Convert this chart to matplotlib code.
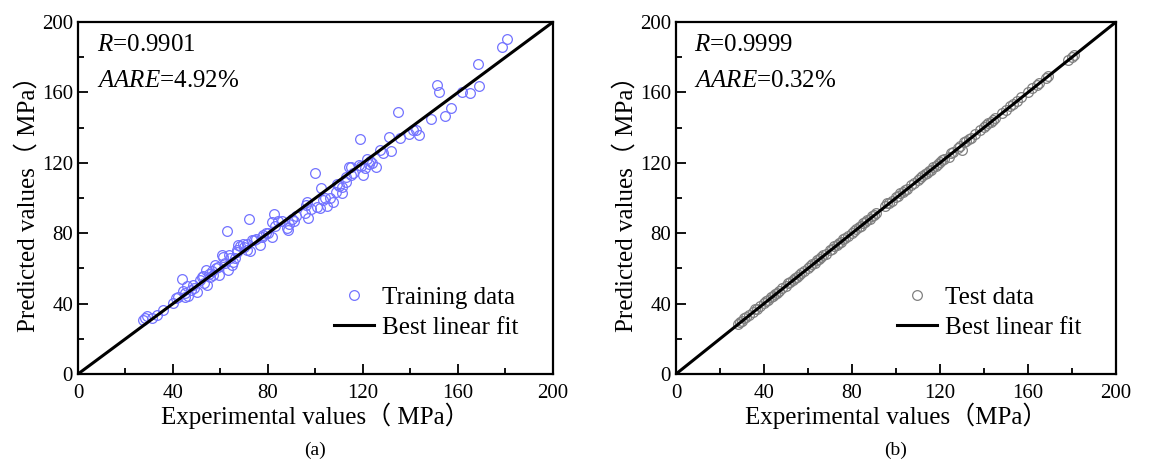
import matplotlib
matplotlib.use('Agg')
import matplotlib.pyplot as plt
from matplotlib.ticker import MultipleLocator

plt.rcParams['font.family'] = ['Liberation Serif', 'Noto Sans CJK SC']
plt.rcParams['mathtext.fontset'] = 'custom'
plt.rcParams['mathtext.rm'] = 'Liberation Serif'
plt.rcParams['mathtext.it'] = 'Liberation Serif:italic'

# training data (experimental, predicted)
train_exp = [27.5, 28.2, 29, 31, 33.1, 35.9, 40.1, 41.1, 42, 43.7, 44.4, 45, 45, 46, 46.5, 47.6,
             48.5, 49, 50, 51.4, 52.1, 52.8, 53, 54.1, 54.4, 55, 55.6, 56.3, 57, 57.7, 58, 59,
             59.5, 60.5, 61.2, 62, 62.6, 63.3, 63.7, 64, 65, 65.4, 66.1, 66.8, 67.1, 67.5, 68.2,
             69.6, 70, 71, 71, 72, 72.4, 73.1, 74, 75, 76.6, 77.6, 78, 79, 80.1, 81.5, 81.8, 82.7,
             83, 84.3, 86, 87.9, 88.6, 89, 90, 91, 92, 95.6, 96, 96.6, 97, 98, 99.8, 100.5, 101.9,
             102.2, 103, 104, 105, 106, 107.2, 108.6, 109, 110, 111, 111, 112.8, 113, 114.2, 114.9,
             115, 116, 118.5, 118.7, 119, 120.1, 120.8, 121.6, 122.7, 123, 124, 125.5, 127.2,
             128.6, 131.1, 132, 134.9, 135.6, 139.5, 140.9, 142.3, 143.6, 148.5, 151.3, 152.1,
             154.5, 157, 161.8, 164.9, 168.6, 168.8, 178.4, 180.5]
train_pred = [30.7, 31.6, 33, 32, 33.5, 36.4, 40.1, 43, 44, 54, 47.2, 43.9, 46, 50, 44.5, 47.7,
              50.6, 49, 46.8, 53.4, 55.3, 55.9, 52, 59, 50.6, 57, 55.3, 58.7, 56, 61.9, 60, 61,
              56.3, 67.6, 66.5, 63, 81, 59.1, 67.6, 66, 62, 63.8, 65.7, 70.5, 69.5, 73.3, 72.5,
              73.9, 72, 70.5, 74, 88, 69.9, 76.1, 76, 77, 73.3, 77.6, 79, 80, 79.9, 86.6, 78, 91.2,
              84, 87, 87, 82.8, 81.8, 85, 88, 87, 90, 91.7, 96, 97.5, 88.5, 93.8, 114.5, 95.1, 94.1,
              105.7, 99, 99.8, 95.5, 100, 97.5, 103.6, 108, 107, 106, 102.6, 109.3, 112, 117.8, 117.8,
              113, 114, 118.8, 133.5, 118, 113, 116.9, 122, 119.1, 121, 120, 117.8, 127.3,
              125.7, 134.5, 126.7, 149, 134.3, 136.5, 138.6, 138.6, 135.8, 145, 164, 160.4,
              146.8, 151.3, 160.4, 159.7, 176, 163.8, 185.6, 190.2]

# test data (experimental, predicted)
test_exp = [28, 29, 30, 31, 32, 33, 35, 36, 37, 38, 40, 41, 42, 43, 44, 45, 46, 47, 48, 50, 51, 52,
            53, 54, 55, 56, 57, 58, 60, 61, 62, 63, 64, 65, 66, 67, 68, 70, 71, 72, 73, 74, 75, 76,
            77, 78, 80, 81, 82, 83, 84, 85, 86, 87, 88, 89, 90, 91, 95, 96, 97, 98, 100, 101, 102,
            103, 104, 105, 107, 108, 110, 111, 112, 113, 114, 115, 116, 117, 118, 119, 120, 121,
            122, 124, 125, 126, 128, 129, 130, 131, 132, 133, 134, 136, 138, 140, 141, 142, 143,
            144, 145, 148, 150, 152, 153, 155, 157, 160, 162, 164, 165, 168, 169, 178, 180, 181]
test_pred = [28.4, 29.5, 30.3, 31.6, 32.2, 33.5, 35.4, 36.8, 37.2, 38.6, 40.3, 41.7, 42.1, 43.6,
             44.2, 45.5, 46.3, 47.4, 48.6, 50.2, 51.5, 52.4, 53.3, 54.6, 55.2, 56.5, 57.3, 58.7,
             60.2, 61.4, 62.5, 63.1, 64.6, 65.2, 66.4, 67.5, 68.2, 70.4, 71.2, 72.6, 73.3, 74.5,
             75.2, 76.6, 77.1, 78.5, 80.3, 81.2, 82.5, 83.4, 84.2, 85.6, 86.3, 87.4, 88.2, 89.6,
             90.4, 91.5, 95.6, 96.9, 97.3, 98.5, 100.4, 101.2, 102.6, 103.3, 104.5, 105.2, 107.6,
             108.3, 110.5, 111.2, 112.7, 113.4, 114.3, 115.6, 116.2, 117.5, 118.4, 119.3, 120.6,
             121.5, 122.3, 123.2, 125.6, 126.4, 128.5, 129.3, 127.2, 131.6, 132.4, 133.5, 134.3,
             136.6, 138.4, 140.6, 141.3, 142.5, 143.4, 144.2, 145.5, 148.4, 150.3, 152.5, 153.4,
             155.3, 157.5, 160.2, 162.4, 164.3, 165.2, 168.4, 169.3, 178.5, 180.2, 181.4]

fit_x = [0, 200]
fit_y = [0, 200]

panels = [
    dict(x=train_exp, y=train_pred, color='#7373ff', label='Training data',
         r='0.9901', aare='4.92%', xlab='Experimental values（ MPa）', tag='(a)',
         rect=[0.0663, 0.1991, 0.4039, 0.7537]),
    dict(x=test_exp, y=test_pred, color='#808080', label='Test data',
         r='0.9999', aare='0.32%', xlab='Experimental values（MPa）', tag='(b)',
         rect=[0.5748, 0.1991, 0.3741, 0.7537]),
]

fig = plt.figure(figsize=(11.76, 4.67), dpi=100)

for p in panels:
    ax = fig.add_axes(p['rect'])
    ax.plot(p['x'], p['y'], 'o', mfc='none', mec=p['color'], ms=7, mew=0.9,
            label=p['label'], zorder=2)
    ax.plot(fit_x, fit_y, '-', color='black', lw=2.2, label='Best linear fit', zorder=3)
    ax.set_xlim(0, 200)
    ax.set_ylim(0, 200)
    ax.xaxis.set_major_locator(MultipleLocator(40))
    ax.yaxis.set_major_locator(MultipleLocator(40))
    ax.xaxis.set_minor_locator(MultipleLocator(20))
    ax.yaxis.set_minor_locator(MultipleLocator(20))
    ax.tick_params(which='both', direction='in', top=False, right=False, labelsize=15, width=1.3)
    ax.tick_params(which='major', length=7)
    ax.tick_params(which='minor', length=4)
    ax.tick_params(axis='x', pad=7)
    for s in ax.spines.values():
        s.set_linewidth(1.6)
    ax.set_xlabel(p['xlab'], fontsize=18, labelpad=0)
    ax.set_ylabel('Predicted values（ MPa）', fontsize=18, labelpad=2)
    ax.text(8, 193, r'$\mathit{R}$=' + p['r'], fontsize=18, va='top')
    ax.text(8, 173, r'$\mathit{AARE}$=' + p['aare'], fontsize=18, va='top')
    ax.legend(loc='lower right', frameon=False, fontsize=18, handlelength=1.6,
              handletextpad=0.3, labelspacing=0.3, borderaxespad=1.0)
    r = p['rect']
    fig.text(r[0] + r[2] / 2, 0.036, p['tag'], ha='center', va='center', fontsize=14)

fig.savefig('out.png', dpi=100)
